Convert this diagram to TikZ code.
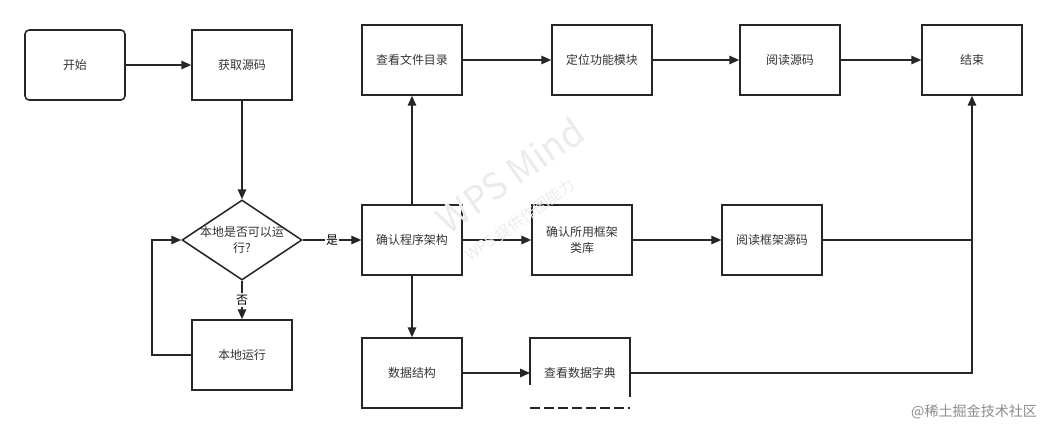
\documentclass[tikz,border=0pt]{standalone}
\usepackage{fontspec}
\setmainfont{Noto Sans CJK SC}
\usetikzlibrary{shapes.geometric,arrows.meta}
\begin{document}
\begin{tikzpicture}[x=0.025cm,y=-0.025cm,
  box/.style={draw=black!85,line width=1.1pt,minimum width=2.5cm,minimum height=1.75cm,align=center,font=\fontsize{8.5}{11}\selectfont,text=black!80},
  arr/.style={draw=black!85,line width=1.1pt,-{Triangle[length=7pt,width=6pt]}},
  ln/.style={draw=black!85,line width=1.1pt}]
\useasboundingbox (0,0) rectangle (1048,433);
\node[box,rounded corners=3pt] (start) at (75,65) {开始};
\node[box] (get) at (242,65) {获取源码};
\node[draw=black!85,line width=1.1pt,diamond,aspect=1.5,minimum width=3cm,minimum height=2cm,inner sep=0pt] (dec) at (242,240) {};
\node[align=center,font=\fontsize{8.5}{11}\selectfont,text=black!80] at (242,240) {本地是否可以运\\行?};
\node[box] (run) at (242,355) {本地运行};
\node[box] (arch) at (412,240) {确认程序架构};
\node[box] (dir) at (412,60) {查看文件目录};
\node[box] (mod) at (602,60) {定位功能模块};
\node[box] (read) at (790,60) {阅读源码};
\node[box] (end) at (972,60) {结束};
\node[box] (fw) at (582,240) {确认所用框架\\类库};
\node[box] (fwread) at (772,240) {阅读框架源码};
\node[box] (ds) at (412,373) {数据结构};
\node[font=\fontsize{8.5}{11}\selectfont,text=black!80] (dict) at (580,373) {查看数据字典};
\coordinate (dtl) at (530,338); \coordinate (dtr) at (630,338);
\draw[ln] (530,385) -- (dtl) -- (dtr) -- (630,397);
\draw[ln,dash pattern=on 7pt off 3pt] (530,408) -- (630,408);
\coordinate (dl) at (530,373); \coordinate (dr) at (630,373);
\draw[arr] (start) -- (get);
\draw[arr] (get) -- (dec.north);
\draw[arr] (dec.east) -- node[fill=white,inner sep=1pt,font=\fontsize{8.5}{11}\selectfont]{是} (arch);
\draw[arr] (dec.south) -- node[fill=white,inner sep=1pt,font=\fontsize{8.5}{11}\selectfont]{否} (run);
\draw[arr] (run.west) -| (152,240) -- (dec.west);
\draw[arr] (arch) -- (dir);
\draw[arr] (dir) -- (mod);
\draw[arr] (mod) -- (read);
\draw[arr] (read) -- (end);
\draw[arr] (arch) -- (fw);
\draw[arr] (fw) -- (fwread);
\draw[ln] (fwread.east) -- (972,240);
\draw[arr] (arch) -- (ds);
\draw[arr] (ds) -- (dl);
\draw[arr] (dr) -| (end.south);
\node[rotate=35,text=black!8,font=\fontsize{26}{30}\selectfont] at (510,175) {WPS Mind};
\node[rotate=35,text=black!8,font=\fontsize{11}{13}\selectfont] at (520,220) {WPS 提供作图能力};
\node[text=black!45,font=\fontsize{10}{12}\selectfont,anchor=east] at (1042,412) {@稀土掘金技术社区};
\end{tikzpicture}
\end{document}
